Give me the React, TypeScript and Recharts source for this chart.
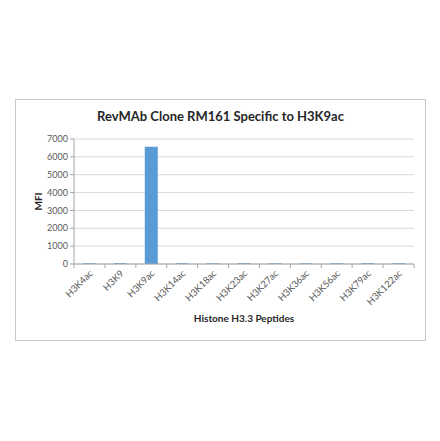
import React from 'react';
import { BarChart, Bar, XAxis, YAxis, CartesianGrid, Label } from 'recharts';

const categories = ['H3K4ac', 'H3K9', 'H3K9ac', 'H3K14ac', 'H3K18ac', 'H3K23ac', 'H3K27ac', 'H3K36ac', 'H3K56ac', 'H3K79ac', 'H3K122ac'];
const mfiValues = [45, 50, 6560, 45, 40, 45, 40, 40, 40, 45, 45];
const yTicks = [0, 1000, 2000, 3000, 4000, 5000, 6000, 7000];

const data = categories.map((name, i) => ({ name, mfi: mfiValues[i] }));

const FONT = 'Lato, "Open Sans", sans-serif';

const XTick = (props: any) => {
  const { x, y, payload, width, visibleTicksCount } = props;
  const step = width && visibleTicksCount ? width / visibleTicksCount : 0;
  const isLast = payload.index === (visibleTicksCount || 0) - 1;
  return (
    <g>
      <line x1={x - step / 2} x2={x - step / 2} y1={y - 8} y2={y - 4} stroke="#a6a6a6" />
      {isLast && <line x1={x + step / 2} x2={x + step / 2} y1={y - 8} y2={y - 4} stroke="#a6a6a6" />}
      <text
        x={x + 4}
        y={y + 2}
        transform={`rotate(-45 ${x + 4} ${y + 2})`}
        textAnchor="end"
        fill="#595959"
        fontSize={9.5}
        fontFamily={FONT}
      >
        {payload.value}
      </text>
    </g>
  );
};

export default function App() {
  return (
    <div style={{ position: 'absolute', left: 0, top: 0, width: 440, height: 441, background: '#fff' }}>
      <div
        style={{
          position: 'absolute',
          left: 15,
          top: 99,
          width: 409,
          height: 240,
          border: '1px solid #c8c8c8',
        }}
      >
        <div
          style={{
            position: 'absolute',
            left: 0,
            top: 8,
            width: '100%',
            textAlign: 'center',
            fontFamily: FONT,
            fontWeight: 700,
            fontSize: 13,
            color: '#262626',
          }}
        >
          RevMAb Clone RM161 Specific to H3K9ac
        </div>
        <BarChart
          width={409}
          height={240}
          data={data}
          margin={{ top: 39, right: 11, left: 20, bottom: 14 }}
          barCategoryGap="29%"
        >
          <CartesianGrid vertical={false} stroke="#d9d9d9" />
          <XAxis
            dataKey="name"
            interval={0}
            stroke="#a6a6a6"
            tickLine={false}
            tick={<XTick />}
            height={62}
          >
            <Label
              value="Histone H3.3 Peptides"
              position="insideBottom"
              offset={4}
              style={{ fontFamily: FONT, fontWeight: 700, fontSize: 10, fill: '#262626' }}
            />
          </XAxis>
          <YAxis
            domain={[0, 7000]}
            ticks={yTicks}
            interval={0}
            width={38}
            stroke="#a6a6a6"
            tickSize={4}
            tick={{ fill: '#595959', fontSize: 9, fontFamily: FONT }}
          >
            <Label
              value="MFI"
              angle={-90}
              position="insideLeft"
              offset={2}
              style={{ fontFamily: FONT, fontWeight: 700, fontSize: 10, fill: '#262626', textAnchor: 'middle' }}
            />
          </YAxis>
          <Bar dataKey="mfi" fill="#5b9bd5" isAnimationActive={false} />
        </BarChart>
      </div>
    </div>
  );
}
